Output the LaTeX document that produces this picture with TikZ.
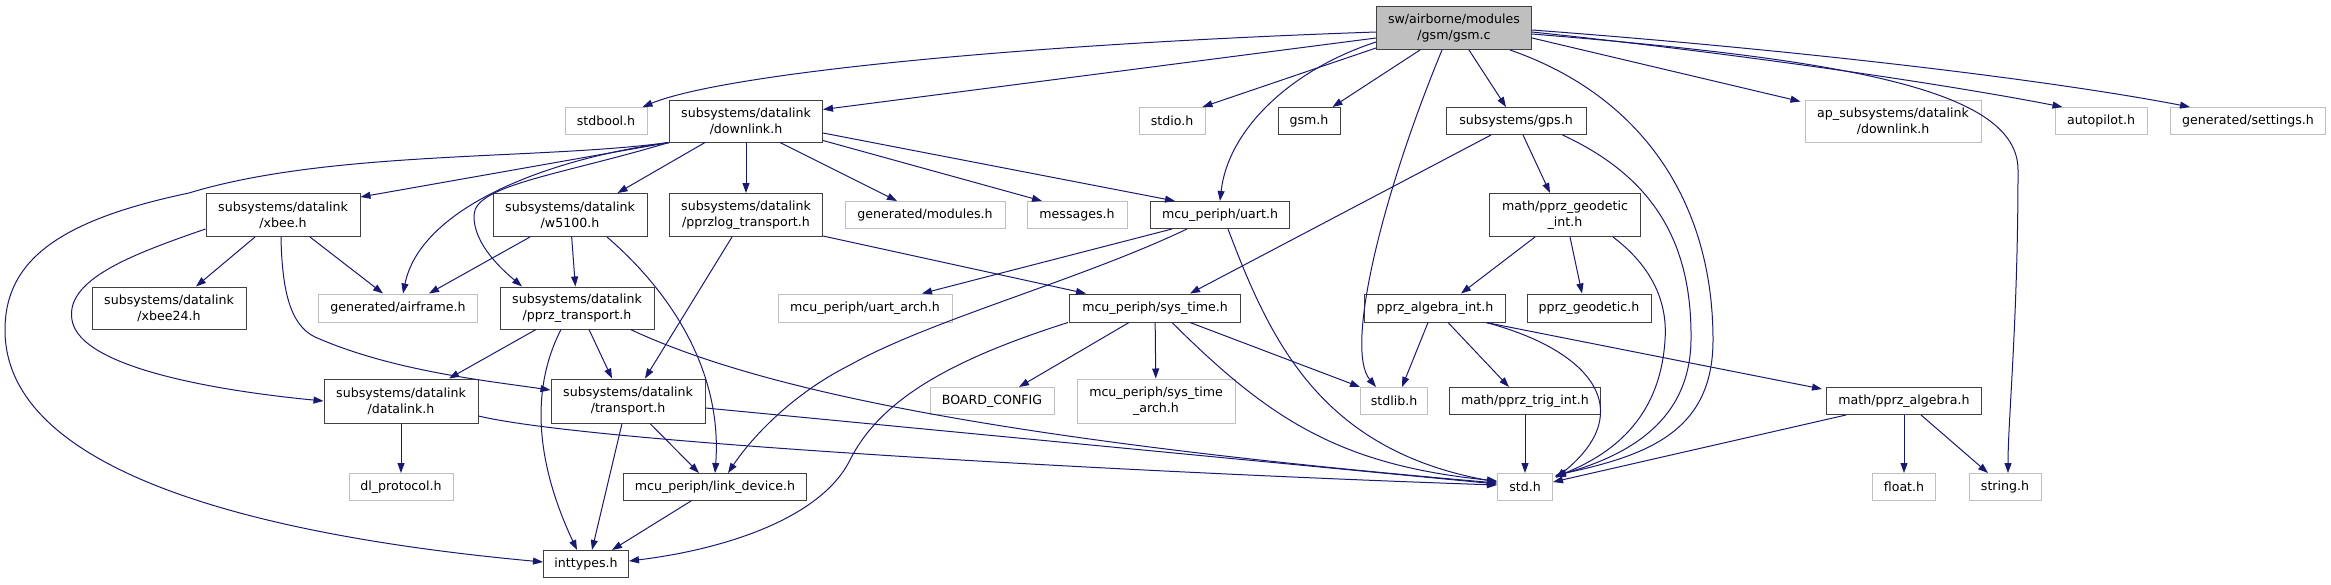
\documentclass[tikz,border=0pt]{standalone}
\usepackage{fontspec}
\setmainfont{DejaVu Sans}
\usetikzlibrary{arrows.meta,calc}
\definecolor{edgec}{HTML}{191970}
\definecolor{docc}{HTML}{404040}
\definecolor{undc}{HTML}{BFBFBF}
\definecolor{gfill}{HTML}{BFBFBF}
\newcommand\nfont{\fontsize{12.6}{16}\selectfont}
\tikzset{
  nd/.style={draw, line width=1pt, inner sep=0pt, align=center, font=\nfont, text=black},
  doc/.style={nd, draw=docc},
  und/.style={nd, draw=undc},
  sz/.style 2 args={minimum width=#1pt, minimum height=#2pt},
  e/.style={draw=edgec, line width=1pt, -{Triangle[length=10pt,width=7pt]}}
}
\begin{document}
\begin{tikzpicture}[x=1pt,y=-1pt]
\path[use as bounding box] (0,0) rectangle (2331,584);
% row 0
\node[doc, fill=gfill, sz={155}{43}] (gsmc) at (1454,28) {sw/airborne/modules\\/gsm/gsm.c};
% row 1
\node[und, sz={82}{27}] (stdbool) at (606,121) {stdbool.h};
\node[doc, sz={153}{42}] (downlink) at (746,121) {subsystems/datalink\\/downlink.h};
\node[und, sz={66}{27}] (stdio) at (1172,121) {stdio.h};
\node[doc, sz={62}{27}] (gsmh) at (1309,121) {gsm.h};
\node[doc, sz={140}{27}] (gps) at (1516,121) {subsystems/gps.h};
\node[und, sz={176}{42}] (apdl) at (1893,121) {ap\_subsystems/datalink\\/downlink.h};
\node[und, sz={92}{27}] (autopilot) at (2101,121) {autopilot.h};
\node[und, sz={155}{27}] (settings) at (2248,121) {generated/settings.h};
% row 2
\node[doc, sz={154}{43}] (xbee) at (283,215) {subsystems/datalink\\/xbee.h};
\node[doc, sz={154}{43}] (w5100) at (570,215) {subsystems/datalink\\/w5100.h};
\node[doc, sz={153}{43}] (pprzlog) at (746,215) {subsystems/datalink\\/pprzlog\_transport.h};
\node[und, sz={160}{27}] (modules) at (925,215) {generated/modules.h};
\node[und, sz={100}{27}] (messages) at (1077,215) {messages.h};
\node[doc, sz={139}{27}] (uart) at (1220,215) {mcu\_periph/uart.h};
\node[doc, sz={151}{43}] (geodint) at (1565,215) {math/pprz\_geodetic\\\_int.h};
% row 3
\node[doc, sz={154}{42}] (xbee24) at (169,308) {subsystems/datalink\\/xbee24.h};
\node[und, sz={159}{28}] (airframe) at (398,308) {generated/airframe.h};
\node[doc, sz={154}{42}] (pprztr) at (577,308) {subsystems/datalink\\/pprz\_transport.h};
\node[und, sz={174}{28}] (uartarch) at (865,308) {mcu\_periph/uart\_arch.h};
\node[doc, sz={171}{28}] (systime) at (1155,308) {mcu\_periph/sys\_time.h};
\node[doc, sz={141}{28}] (algint) at (1435,308) {pprz\_algebra\_int.h};
\node[doc, sz={124}{28}] (geod) at (1589,308) {pprz\_geodetic.h};
% row 4
\node[doc, sz={154}{44}] (datalink) at (401,401) {subsystems/datalink\\/datalink.h};
\node[doc, sz={154}{44}] (transport) at (628,401) {subsystems/datalink\\/transport.h};
\node[und, sz={124}{27}] (board) at (992,401) {BOARD\_CONFIG};
\node[und, sz={158}{44}] (stimearch) at (1156,401) {mcu\_periph/sys\_time\\\_arch.h};
\node[und, sz={67}{27}] (stdlib) at (1394,401) {stdlib.h};
\node[doc, sz={151}{27}] (trig) at (1525,401) {math/pprz\_trig\_int.h};
\node[doc, sz={155}{27}] (algebra) at (1904,401) {math/pprz\_algebra.h};
% row 5
\node[und, sz={104}{27}] (dlproto) at (401,487) {dl\_protocol.h};
\node[doc, sz={183}{27}] (linkdev) at (715,487) {mcu\_periph/link\_device.h};
\node[und, sz={55}{27}] (std) at (1525,487) {std.h};
\node[und, sz={63}{27}] (float) at (1904,487) {float.h};
\node[und, sz={72}{27}] (string) at (2005,487) {string.h};
% row 6
\node[doc, sz={85}{27}] (inttypes) at (586,564) {inttypes.h};

% ---- edges from gsm.c
\draw[e] ($(gsmc.west)+(0,4)$) .. controls (1000,45) and (720,75) .. ($(stdbool.north east)+(-5,0)$);
\draw[e] ($(gsmc.west)+(0,10)$) -- ($(downlink.north east)+(0,10)$);
\draw[e] ($(gsmc.west)+(0,20)$) -- ($(stdio.north east)+(-3,0)$);
\draw[e] ($(gsmc.west)+(0,14)$) .. controls (1290,70) and (1228,130) .. (uart.north);
\draw[e] ($(gsmc.south)+(-34,0)$) -- ($(gsmh.north east)+(-8,0)$);
\draw[e] ($(gsmc.south)+(15,0)$) -- ($(gps.north)+(-10,0)$);
\draw[e] ($(gsmc.south)+(-12,0)$) .. controls (1380,200) and (1345,350) .. ($(stdlib.north)+(-18,0)$);
\draw[e] ($(gsmc.south east)+(-22,0)$) .. controls (1640,95) and (1713,200) .. (1713,340) .. controls (1713,430) and (1650,455) .. ($(std.north east)+(3,2)$);
\draw[e] ($(gsmc.east)+(0,10)$) -- ($(apdl.north west)+(-4,2)$);
\draw[e] ($(gsmc.east)+(0,4)$) .. controls (1750,55) and (1950,85) .. ($(autopilot.north west)+(8,0)$);
\draw[e] ($(gsmc.east)+(0,2)$) .. controls (1800,50) and (2050,80) .. ($(settings.north west)+(20,0)$);
\draw[e] ($(gsmc.east)+(0,6)$) .. controls (1850,60) and (2018,90) .. (2018,170) .. controls (2018,320) and (2008,420) .. ($(string.north)+(3,0)$);

% ---- downlink.h
\draw[e] (downlink.south west) .. controls (540,160) and (330,150) .. (189,193) .. controls (60,220) and (5,260) .. (5,330) .. controls (5,470) and (250,535) .. ($(inttypes.west)+(0,-2)$);
\draw[e] (downlink.south west) -- ($(xbee.north east)+(0,4)$);
\draw[e] (downlink.south west) .. controls (540,160) and (420,210) .. ($(airframe.north)+(5,0)$);
\draw[e] (downlink.south west) .. controls (560,175) and (475,185) .. (474,215) .. controls (473,245) and (505,272) .. ($(pprztr.north)+(-55,0)$);
\draw[e] ($(downlink.south west)+(36,0)$) -- ($(w5100.north east)+(-30,0)$);
\draw[e] (downlink) -- (pprzlog);
\draw[e] ($(downlink.south)+(34,0)$) -- ($(modules.north)+(-28,0)$);
\draw[e] ($(downlink.south east)+(0,-2)$) -- ($(messages.north)+(-35,0)$);
\draw[e] ($(downlink.east)+(0,12)$) -- ($(uart.north west)+(25,0)$);

% ---- xbee.h
\draw[e] ($(xbee.south)+(-28,0)$) -- ($(xbee24.north)+(27,0)$);
\draw[e] ($(xbee.south)+(27,0)$) -- ($(airframe.north)+(-15,0)$);
\draw[e] ($(xbee.west)+(0,14)$) .. controls (130,255) and (65,280) .. (72,320) .. controls (80,370) and (230,392) .. (datalink.west);
\draw[e] ($(xbee.south)+(-2,0)$) .. controls (282,290) and (290,325) .. (315,337) .. controls (390,370) and (480,380) .. ($(transport.west)+(0,-11)$);

% ---- w5100.h
\draw[e] ($(w5100.south)+(-40,0)$) -- ($(airframe.north)+(31,0)$);
\draw[e] (w5100) -- (pprztr);
\draw[e] ($(w5100.south)+(37,0)$) .. controls (680,300) and (722,380) .. (linkdev.north);

% ---- pprzlog_transport.h
\draw[e] ($(pprzlog.south)+(-14,0)$) -- ($(transport.north)+(17,0)$);
\draw[e] ($(pprzlog.south east)+(0,-1)$) -- ($(systime.north west)+(17,0)$);

% ---- pprz_transport.h
\draw[e] ($(pprztr.south)+(-41,0)$) -- ($(datalink.north)+(48,0)$);
\draw[e] ($(pprztr.south)+(12,0)$) -- ($(transport.north)+(-16,0)$);
\draw[e] ($(pprztr.south)+(-16,0)$) .. controls (535,380) and (530,450) .. ($(inttypes.north)+(-9,0)$);
\draw[e] ($(pprztr.south east)+(-24,0)$) .. controls (760,390) and (1000,440) .. ($(std.west)+(0,-4)$);

% ---- datalink.h
\draw[e] (datalink) -- (dlproto);
\draw[e] ($(datalink.east)+(0,15)$) .. controls (600,445) and (1200,475) .. ($(std.west)+(0,-2)$);

% ---- transport.h
\draw[e] ($(transport.east)+(0,7)$) -- ($(std.west)+(0,-3)$);
\draw[e] ($(transport.south)+(22,0)$) -- ($(linkdev.north)+(-16,0)$);
\draw[e] ($(transport.south)+(-6,0)$) -- ($(inttypes.north)+(6,0)$);

% ---- link_device.h
\draw[e] ($(linkdev.south)+(-24,0)$) -- ($(inttypes.north)+(26,0)$);

% ---- uart.h
\draw[e] ($(uart.south)+(-48,0)$) -- ($(uartarch.north)+(57,0)$);
\draw[e] ($(uart.south)+(-33,0)$) .. controls (1080,280) and (930,320) .. (850,365) .. controls (790,395) and (750,440) .. ($(linkdev.north)+(13,0)$);
\draw[e] ($(uart.south)+(8,0)$) .. controls (1270,340) and (1320,450) .. ($(std.west)+(0,-5)$);

% ---- gps.h
\draw[e] ($(gps.south)+(-25,0)$) -- ($(systime.north)+(35,0)$);
\draw[e] ($(gps.south)+(7,0)$) -- ($(geodint.north)+(-15,0)$);
\draw[e] ($(gps.south east)+(-24,0)$) .. controls (1660,180) and (1692,250) .. (1691,340) .. controls (1690,420) and (1630,455) .. ($(std.north east)+(2,3)$);

% ---- pprz_geodetic_int.h
\draw[e] ($(geodint.south)+(-30,0)$) -- ($(algint.north)+(26,0)$);
\draw[e] ($(geodint.south)+(5,0)$) -- ($(geod.north)+(-7,0)$);
\draw[e] ($(geodint.south east)+(-28,0)$) .. controls (1650,265) and (1668,300) .. (1665,340) .. controls (1660,420) and (1610,455) .. ($(std.north east)+(2,4)$);

% ---- pprz_algebra_int.h
\draw[e] ($(algint.south)+(-7,0)$) -- ($(stdlib.north)+(8,0)$);
\draw[e] ($(algint.south)+(13,0)$) -- ($(trig.north)+(-16,0)$);
\draw[e] ($(algint.south east)+(-20,0)$) .. controls (1590,350) and (1640,410) .. ($(std.north east)+(3,5)$);
\draw[e] ($(algint.south east)+(-20,0)$) -- ($(algebra.north west)+(-4,2)$);

% ---- pprz_trig_int.h
\draw[e] (trig) -- (std);

% ---- pprz_algebra.h
\draw[e] ($(algebra.south west)+(20,0)$) -- ($(std.east)+(0,-5)$);
\draw[e] (algebra) -- (float);
\draw[e] ($(algebra.south)+(17,0)$) -- ($(string.north)+(-17,0)$);

% ---- sys_time.h
\draw[e] ($(systime.south)+(-26,0)$) -- ($(board.north)+(27,0)$);
\draw[e] (systime) -- (stimearch);
\draw[e] ($(systime.south)+(35,0)$) -- (stdlib.north west);
\draw[e] ($(systime.south)+(17,0)$) .. controls (1270,420) and (1340,465) .. ($(std.west)+(0,-6)$);
\draw[e] ($(systime.south west)+(-1,0)$) .. controls (950,360) and (880,400) .. (850,460) .. controls (820,520) and (720,550) .. ($(inttypes.east)+(0,-3)$);
\end{tikzpicture}
\end{document}
